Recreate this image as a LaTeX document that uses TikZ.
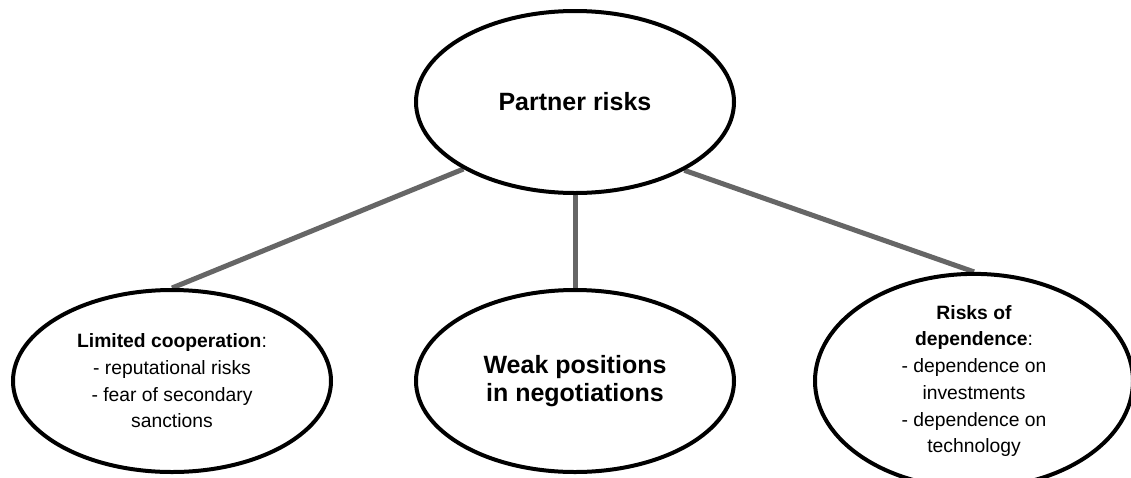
\documentclass[tikz,border=0pt]{standalone}
\usepackage{fontspec}
\setmainfont{Liberation Sans}
\usetikzlibrary{shapes.geometric,backgrounds}
\tikzset{
  oval/.style={ellipse, draw=black, line width=4pt, fill=white, minimum width=318pt, minimum height=182pt, inner sep=0pt, align=center},
  big/.style={font=\fontsize{25}{28.5}\selectfont\bfseries},
  small/.style={font=\fontsize{19.3}{26.7}\selectfont},
  link/.style={draw=black!60, line width=5pt}
}
\begin{document}
\begin{tikzpicture}[x=1pt,y=-1pt]
\useasboundingbox (0,0) rectangle (1131,477);
\node[oval, big] (top) at (575,102) {Partner risks};
\node[oval, small] (left) at (172,381) {\textbf{Limited cooperation}:\\- reputational risks\\- fear of secondary\\sanctions};
\node[oval, big] (mid) at (575,381) {Weak positions\\in negotiations};
\node[oval, small] (right) at (974,381) {\textbf{Risks of}\\\textbf{dependence}:\\- dependence on\\investments\\- dependence on\\technology};
\begin{scope}[on background layer]
\draw[link] (top.211) -- (left.north);
\draw[link] (top.south) -- (mid.north);
\draw[link] (top.328) -- (right.north);
\end{scope}
\end{tikzpicture}
\end{document}
